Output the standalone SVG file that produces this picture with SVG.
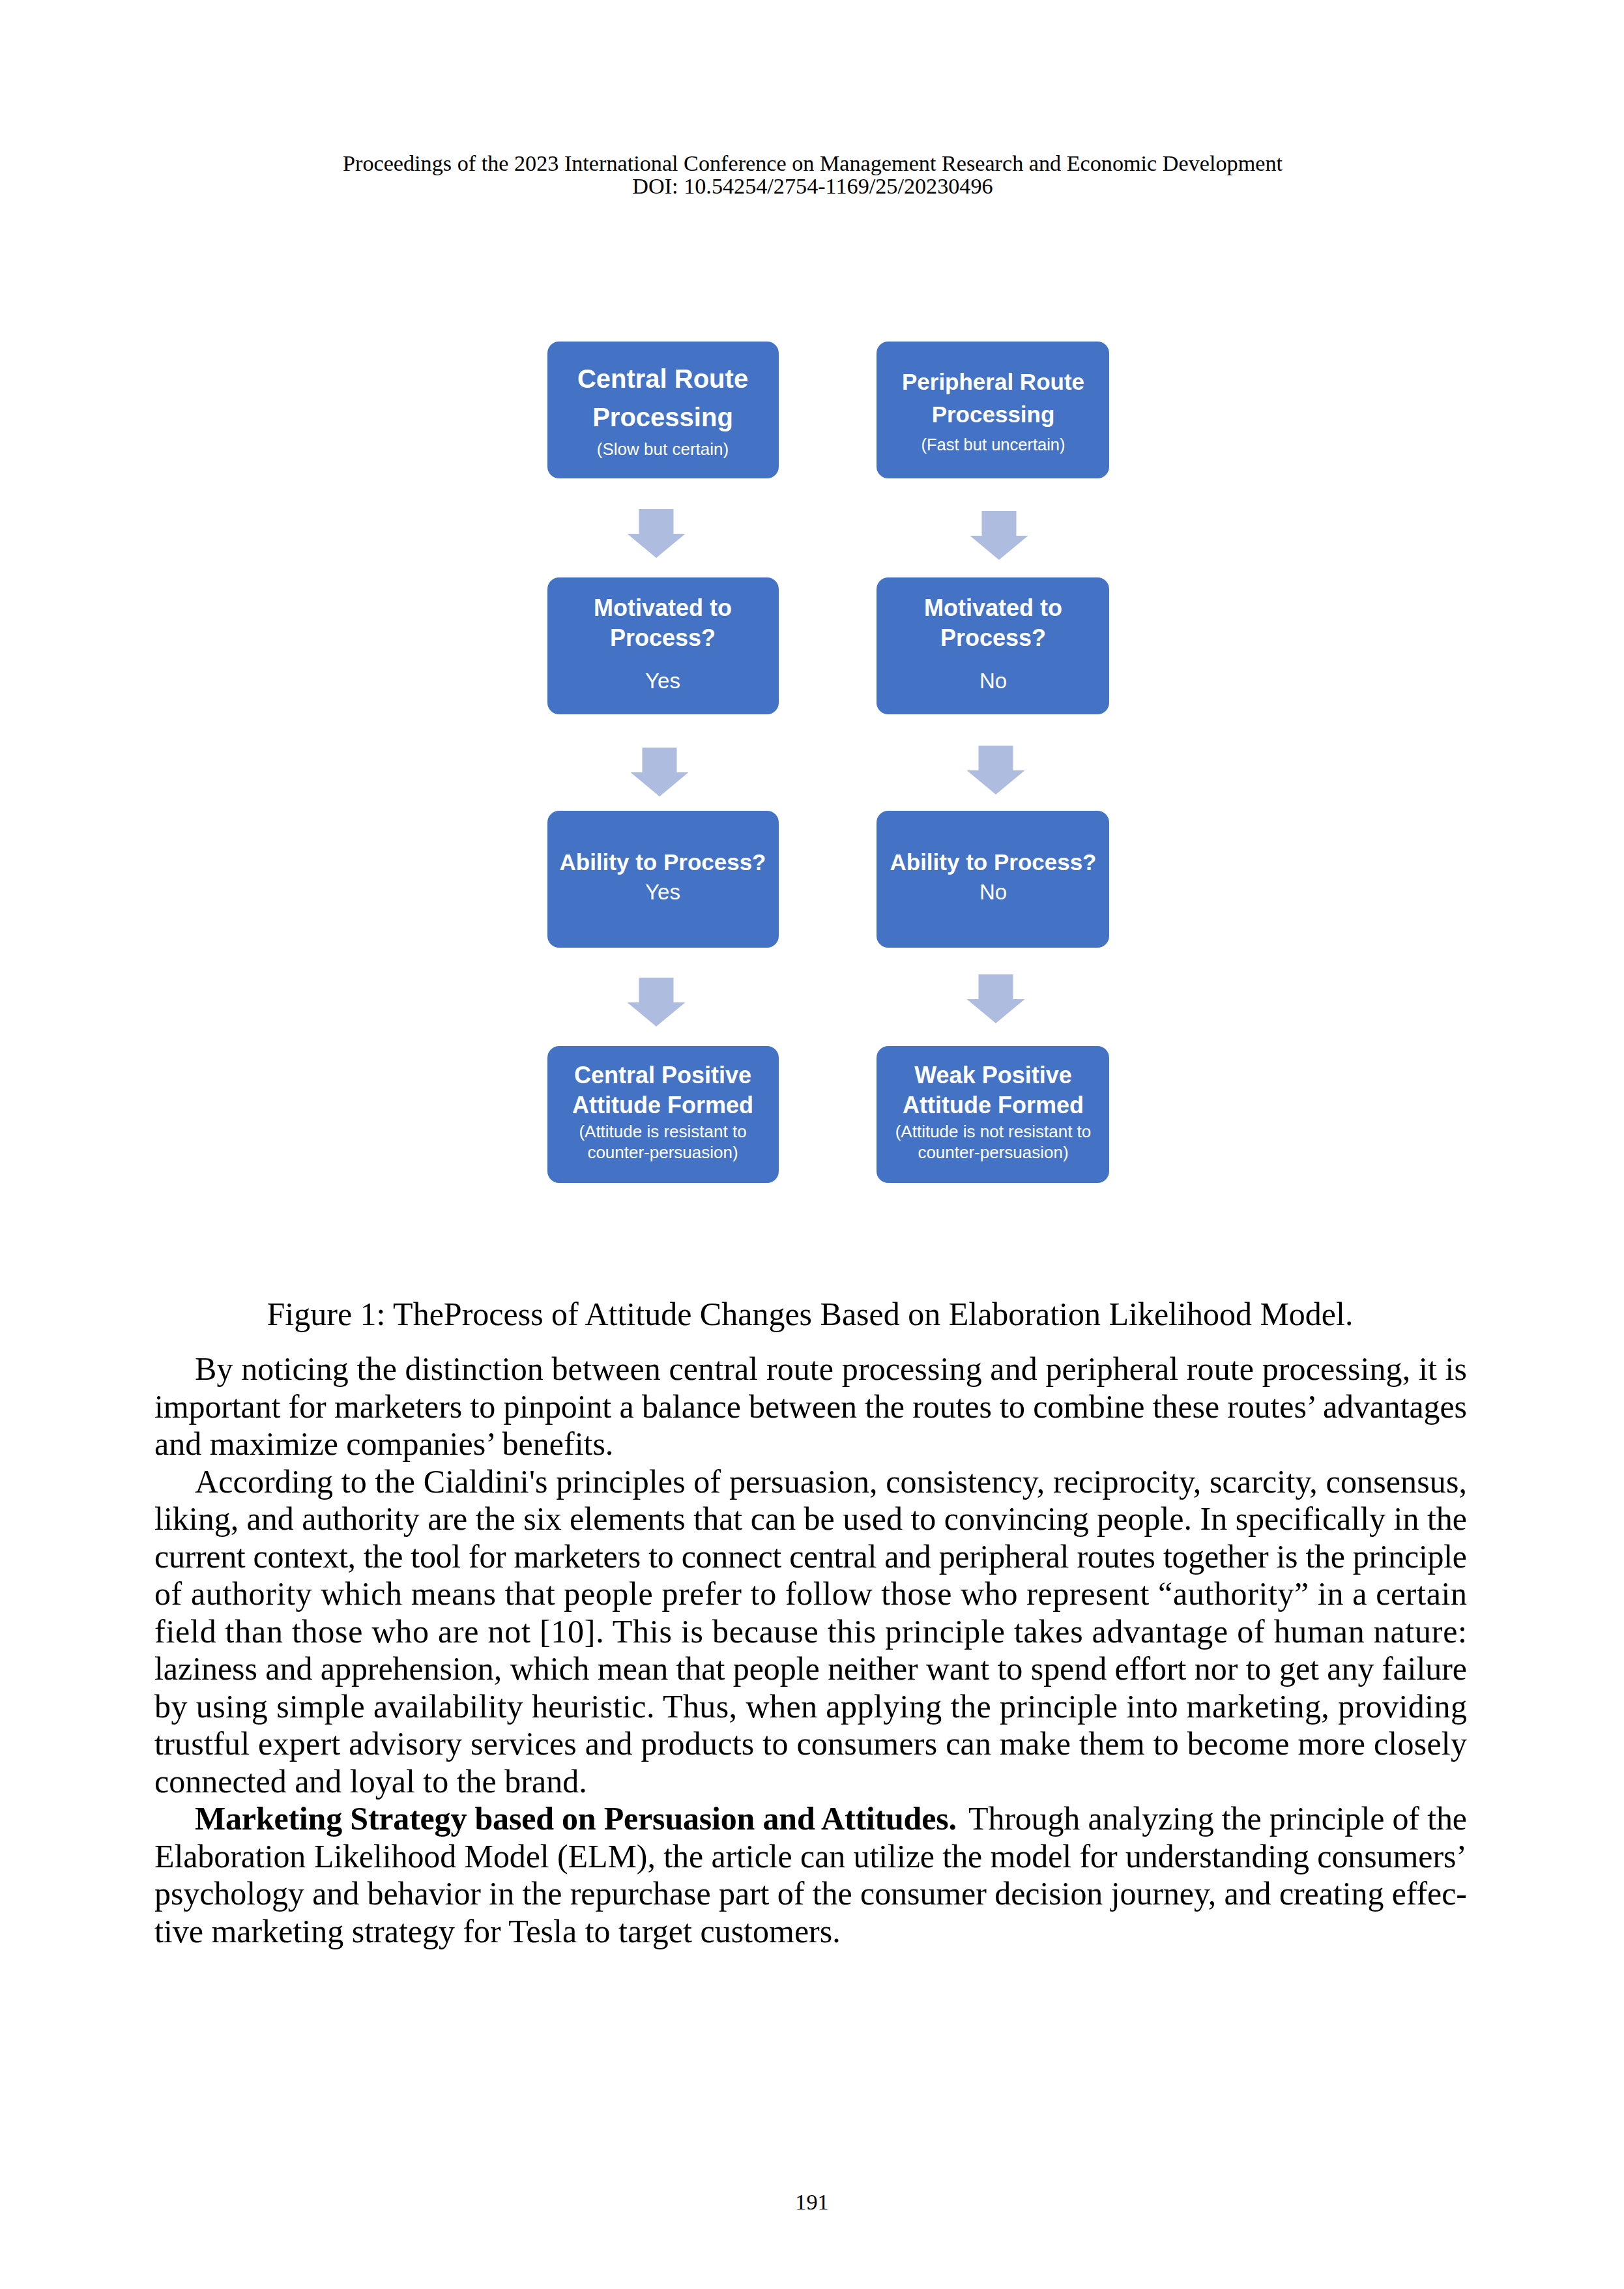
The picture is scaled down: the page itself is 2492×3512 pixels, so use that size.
<svg xmlns="http://www.w3.org/2000/svg" width="2492" height="3512" viewBox="0 0 2492 3512">
<style>
.box{fill:#4472C4}
.arr{fill:#AEBCDF}
.t{font-family:"Liberation Sans",Arial,sans-serif;fill:#FFFFFF;text-anchor:middle}
.b{font-weight:bold}
.s{font-family:"Liberation Serif","Times New Roman",serif;fill:#000000;font-size:50px}
.hd{font-family:"Liberation Serif","Times New Roman",serif;fill:#000000;font-size:34.2px;text-anchor:middle}
.bd{font-weight:bold}
</style>
<defs>
<path id="down" d="M -26.5 0 H 26.5 V 38 H 44.5 L 0 75 L -44.5 38 H -26.5 Z"/>
</defs>
<rect width="2492" height="3512" fill="#FFFFFF"/>
<text class="hd" x="1247" y="262">Proceedings of the 2023 International Conference on Management Research and Economic Development</text>
<text class="hd" x="1247" y="297">DOI: 10.54254/2754-1169/25/20230496</text>

<g id="connectors">
<use href="#down" class="arr" x="1007" y="781"/>
<use href="#down" class="arr" x="1533" y="784"/>
<use href="#down" class="arr" x="1012" y="1147"/>
<use href="#down" class="arr" x="1528" y="1144"/>
<use href="#down" class="arr" x="1007" y="1500"/>
<use href="#down" class="arr" x="1528" y="1495"/>
</g>

<g id="central-route">
<rect class="box" x="840" y="524" width="355" height="210" rx="18"/>
<text class="t b" x="1017" y="595" font-size="40">Central Route</text>
<text class="t b" x="1017" y="654" font-size="40">Processing</text>
<text class="t" x="1017" y="698" font-size="26">(Slow but certain)</text>
</g>
<g id="peripheral-route">
<rect class="box" x="1345" y="524" width="357" height="210" rx="18"/>
<text class="t b" x="1524" y="598" font-size="35">Peripheral Route</text>
<text class="t b" x="1524" y="648" font-size="35">Processing</text>
<text class="t" x="1524" y="691" font-size="25.5">(Fast but uncertain)</text>
</g>
<g id="motivated-yes">
<rect class="box" x="840" y="886" width="355" height="210" rx="18"/>
<text class="t b" x="1017" y="945" font-size="36">Motivated to</text>
<text class="t b" x="1017" y="991" font-size="36">Process?</text>
<text class="t" x="1017" y="1056" font-size="33">Yes</text>
</g>
<g id="motivated-no">
<rect class="box" x="1345" y="886" width="357" height="210" rx="18"/>
<text class="t b" x="1524" y="945" font-size="36">Motivated to</text>
<text class="t b" x="1524" y="991" font-size="36">Process?</text>
<text class="t" x="1524" y="1056" font-size="33">No</text>
</g>
<g id="ability-yes">
<rect class="box" x="840" y="1244" width="355" height="210" rx="18"/>
<text class="t b" x="1017" y="1335" font-size="35">Ability to Process?</text>
<text class="t" x="1017" y="1380" font-size="33">Yes</text>
</g>
<g id="ability-no">
<rect class="box" x="1345" y="1244" width="357" height="210" rx="18"/>
<text class="t b" x="1524" y="1335" font-size="35">Ability to Process?</text>
<text class="t" x="1524" y="1380" font-size="33">No</text>
</g>
<g id="central-positive">
<rect class="box" x="840" y="1605" width="355" height="210" rx="18"/>
<text class="t b" x="1017" y="1662" font-size="36">Central Positive</text>
<text class="t b" x="1017" y="1708" font-size="36">Attitude Formed</text>
<text class="t" x="1017" y="1745" font-size="26">(Attitude is resistant to</text>
<text class="t" x="1017" y="1777" font-size="26">counter-persuasion)</text>
</g>
<g id="weak-positive">
<rect class="box" x="1345" y="1605" width="357" height="210" rx="18"/>
<text class="t b" x="1524" y="1662" font-size="36">Weak Positive</text>
<text class="t b" x="1524" y="1708" font-size="36">Attitude Formed</text>
<text class="t" x="1524" y="1745" font-size="26">(Attitude is not resistant to</text>
<text class="t" x="1524" y="1777" font-size="26">counter-persuasion)</text>
</g>

<text class="s" x="1243" y="2033" text-anchor="middle">Figure 1: TheProcess of Attitude Changes Based on Elaboration Likelihood Model.</text>

<text class="s" x="299" y="2117" textLength="1952" lengthAdjust="spacing">By noticing the distinction between central route processing and peripheral route processing, it is</text>
<text class="s" x="237" y="2174.5" textLength="2014" lengthAdjust="spacing">important for marketers to pinpoint a balance between the routes to combine these routes’ advantages</text>
<text class="s" x="237" y="2232">and maximize companies’ benefits.</text>
<text class="s" x="299" y="2289.5" textLength="1952" lengthAdjust="spacing">According to the Cialdini's principles of persuasion, consistency, reciprocity, scarcity, consensus,</text>
<text class="s" x="237" y="2347" textLength="2014" lengthAdjust="spacing">liking, and authority are the six elements that can be used to convincing people. In specifically in the</text>
<text class="s" x="237" y="2404.5" textLength="2014" lengthAdjust="spacing">current context, the tool for marketers to connect central and peripheral routes together is the principle</text>
<text class="s" x="237" y="2462" textLength="2014" lengthAdjust="spacing">of authority which means that people prefer to follow those who represent “authority” in a certain</text>
<text class="s" x="237" y="2519.5" textLength="2014" lengthAdjust="spacing">field than those who are not [10]. This is because this principle takes advantage of human nature:</text>
<text class="s" x="237" y="2577" textLength="2014" lengthAdjust="spacing">laziness and apprehension, which mean that people neither want to spend effort nor to get any failure</text>
<text class="s" x="237" y="2634.5" textLength="2014" lengthAdjust="spacing">by using simple availability heuristic. Thus, when applying the principle into marketing, providing</text>
<text class="s" x="237" y="2692" textLength="2014" lengthAdjust="spacing">trustful expert advisory services and products to consumers can make them to become more closely</text>
<text class="s" x="237" y="2749.5">connected and loyal to the brand.</text>
<text class="s bd" x="299" y="2807" textLength="1169" lengthAdjust="spacing">Marketing Strategy based on Persuasion and Attitudes.</text>
<text class="s" x="1486" y="2807" textLength="765" lengthAdjust="spacing">Through analyzing the principle of the</text>
<text class="s" x="237" y="2864.5" textLength="2014" lengthAdjust="spacing">Elaboration Likelihood Model (ELM), the article can utilize the model for understanding consumers’</text>
<text class="s" x="237" y="2922" textLength="2014" lengthAdjust="spacing">psychology and behavior in the repurchase part of the consumer decision journey, and creating effec-</text>
<text class="s" x="237" y="2979.5">tive marketing strategy for Tesla to target customers.</text>

<text class="hd" x="1246" y="3390" font-size="33">191</text>
</svg>
